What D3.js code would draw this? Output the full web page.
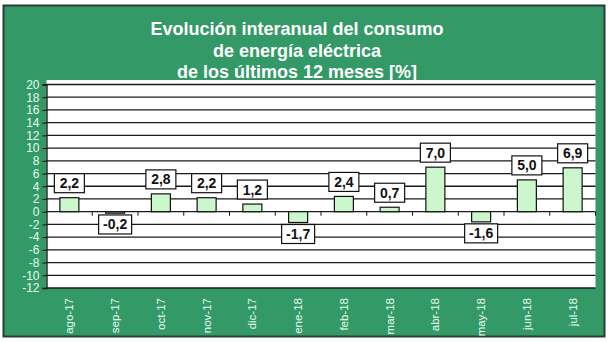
<!DOCTYPE html>
<html><head><meta charset="utf-8">
<script src="https://cdn.jsdelivr.net/npm/d3@7"></script>
<style>body{margin:0;background:#fff}svg{display:block}text{font-family:"Liberation Sans",Arial,sans-serif}</style>
</head><body>
<script>
const categories = ["ago-17","sep-17","oct-17","nov-17","dic-17","ene-18","feb-18","mar-18","abr-18","may-18","jun-18","jul-18"];
const values = [2.2,-0.2,2.8,2.2,1.2,-1.7,2.4,0.7,7.0,-1.6,5.0,6.9];
const yTicks = [20,18,16,14,12,10,8,6,4,2,0,-2,-4,-6,-8,-10,-12];
const titleLines = ["Evolución interanual del consumo","de energía eléctrica","de los últimos 12 meses [%]"];

const W=609,H=342;
const svg=d3.select("body").append("svg").attr("width",W).attr("height",H);
svg.append("rect").attr("x",3.5).attr("y",5.5).attr("width",601).attr("height",331)
  .attr("fill","#339966").attr("stroke","#2a3d33").attr("stroke-width",2);

const L=46.5,R=595.5,T=84.5,B=288;
svg.append("rect").attr("x",L).attr("y",80).attr("width",R-L).attr("height",B-80).attr("fill","#fff");

const x=d3.scaleBand().domain(categories).range([L,R]);
const y=d3.scaleLinear().domain([-12,20]).range([B,T]);

// gridlines
svg.append("g").selectAll("line").data(yTicks).join("line")
  .attr("x1",L).attr("x2",R).attr("y1",d=>y(d)).attr("y2",d=>y(d))
  .attr("stroke","#1a1a1a").attr("stroke-width",1.3);

// y axis
const ya=svg.append("g").attr("transform",`translate(${L},0)`)
  .call(d3.axisLeft(y).tickValues(yTicks).tickSize(4).tickPadding(3).tickFormat(d=>String(d)));
ya.select(".domain").attr("stroke","#111").attr("stroke-width",1.3);
ya.selectAll(".tick line").attr("stroke","#111");
ya.selectAll("text").attr("fill","#e6fff0").attr("font-size","12px").attr("font-family","Liberation Sans, Arial, sans-serif");

// zero-line category ticks
svg.append("g").selectAll("line").data(categories).join("line")
  .attr("x1",(d,i)=>L+x.step()*(i+1)).attr("x2",(d,i)=>L+x.step()*(i+1))
  .attr("y1",y(0)).attr("y2",y(0)+4).attr("stroke","#111").attr("stroke-width",1);

// bars
const bw=19;
svg.append("g").selectAll("rect").data(values).join("rect")
  .attr("x",(d,i)=>x(categories[i])+x.bandwidth()/2-bw/2)
  .attr("y",d=>y(Math.max(0,d)))
  .attr("width",bw)
  .attr("height",d=>Math.max(1.5,Math.abs(y(d)-y(0))))
  .attr("fill","#ccf7cc").attr("stroke","#111").attr("stroke-width",1.2);

// labels
const fmt=d=>d.toFixed(1).replace(".",",");
const lg=svg.append("g");
values.forEach((v,i)=>{
  const cx=x(categories[i])+x.bandwidth()/2;
  const bh=19,bwid=fmt(v).length>3?33:30;
  let top = v>=0 ? y(v)-5-bh : y(v)+2;
  lg.append("rect").attr("x",cx-bwid/2).attr("y",top).attr("width",bwid).attr("height",bh)
    .attr("fill","#fff").attr("stroke","#111").attr("stroke-width",1.2);
  lg.append("text").attr("x",cx).attr("y",top+bh/2+5).attr("text-anchor","middle")
    .attr("font-size","14px").attr("font-weight","bold").attr("fill","#111").text(fmt(v));
});

// x labels
svg.append("g").selectAll("text").data(categories).join("text")
  .attr("transform",d=>`translate(${x(d)+x.bandwidth()/2+4},298) rotate(-90)`)
  .attr("text-anchor","end").attr("font-size","11.5px").attr("fill","#e6fff0").text(d=>d);

// title
svg.append("g").selectAll("text").data(titleLines).join("text")
  .attr("x",297).attr("y",(d,i)=>35+i*21.5).attr("text-anchor","middle")
  .attr("font-size","18px").attr("font-weight","bold").attr("fill","#fff").text(d=>d);
</script>
</body></html>
